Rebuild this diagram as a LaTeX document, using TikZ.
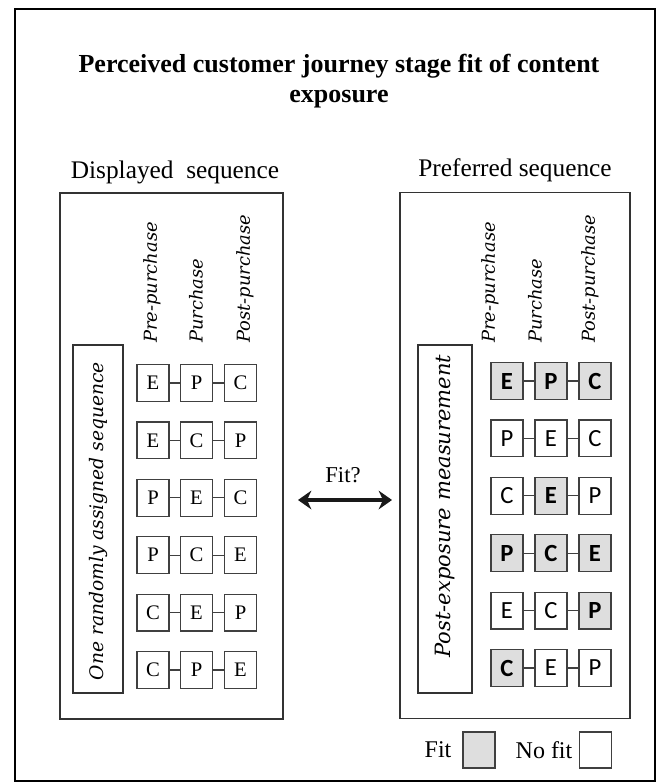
\documentclass[tikz,border=0pt]{standalone}
\usepackage{fontspec}
\setmainfont{Liberation Serif}
\newfontfamily\lblfont{DejaVu Serif}
\newfontfamily\carl{Carlito}
\usetikzlibrary{arrows.meta}
\tikzset{
  frame/.style={draw=black!80, line width=1.1pt},
  sq/.style={draw=black!75, line width=0.9pt, minimum width=24pt, minimum height=27.5pt, inner sep=0pt},
  lsq/.style={sq, font=\fontsize{15.5}{15.5}\selectfont},
  rsq/.style={sq, font=\carl\fontsize{18.5}{18.5}\selectfont},
  fitsq/.style={sq, fill=black!13, font=\carl\bfseries\fontsize{18.5}{18.5}\selectfont},
  collbl/.style={rotate=90, anchor=west, inner sep=0pt, font=\lblfont\itshape\fontsize{13.4}{15}\selectfont},
  conn/.style={draw=black!75, line width=0.8pt},
}
\begin{document}
\begin{tikzpicture}[x=0.75pt,y=-0.75pt]
\useasboundingbox (0,0) rectangle (667,782);
\fill[white] (0,0) rectangle (667,782);
\node[draw=black, line width=1.5pt, minimum width=480pt, minimum height=579pt, inner sep=0pt] (outer) at (335,395) {};
\node[align=center, font=\bfseries\fontsize{19.5}{22.5}\selectfont] (title) at (339,81) {Perceived customer journey stage fit of content\\exposure};
\node[font=\fontsize{19}{22}\selectfont] (disp) at (175,172) {Displayed\ \ sequence};
\node[font=\fontsize{19}{22}\selectfont] (pref) at (515,170) {Preferred sequence};
% boxes
\node[frame, minimum width=167.25pt, minimum height=394.5pt, inner sep=0pt] (lbox) at (171.5,456) {};
\node[frame, minimum width=172.5pt, minimum height=394.5pt, inner sep=0pt] (rbox) at (515,455.5) {};
\node[frame, minimum width=37.5pt, minimum height=261pt, inner sep=0pt] (linner) at (98,519) {};
\node[frame, minimum width=40.5pt, minimum height=261pt, inner sep=0pt] (rinner) at (445,519) {};
\node[rotate=90, font=\lblfont\itshape\fontsize{14}{16}\selectfont] (ltext) at (98,521) {One randomly assigned sequence};
\node[rotate=90, font=\lblfont\itshape\fontsize{15.8}{17}\selectfont] (rtext) at (445,506) {Post-exposure measurement};
% column labels
\node[collbl] (lc1) at (152,343) {Pre-purchase};
\node[collbl] (lc2) at (196,343) {Purchase};
\node[collbl] (lc3) at (245,343) {Post-purchase};
\node[collbl] (rc1) at (490,343) {Pre-purchase};
\node[collbl] (rc2) at (535,343) {Purchase};
\node[collbl] (rc3) at (590,343) {Post-purchase};
% left squares
\foreach \r/\a/\b/\c in {1/E/P/C, 2/E/C/P, 3/P/E/C, 4/P/C/E, 5/C/E/P, 6/C/P/E}{
  \pgfmathsetmacro{\yy}{383+57.4*(\r-1)}
  \node[lsq] (L\r a) at (153,\yy) {\a};
  \node[lsq] (L\r b) at (196.5,\yy) {\b};
  \node[lsq] (L\r c) at (240.5,\yy) {\c};
  \draw[conn] (L\r a.east) -- (L\r b.west);
  \draw[conn] (L\r b.east) -- (L\r c.west);
}
% right squares
\foreach \r/\a/\sa/\b/\sb/\c/\sc in {1/E/fitsq/P/fitsq/C/fitsq, 2/P/rsq/E/rsq/C/rsq, 3/C/rsq/E/fitsq/P/rsq, 4/P/fitsq/C/fitsq/E/fitsq, 5/E/rsq/C/rsq/P/fitsq, 6/C/fitsq/E/rsq/P/rsq}{
  \pgfmathsetmacro{\yy}{381+57.4*(\r-1)}
  \node[\sa] (R\r a) at (507,\yy) {\a};
  \node[\sb] (R\r b) at (551,\yy) {\b};
  \node[\sc] (R\r c) at (595,\yy) {\c};
  \draw[conn] (R\r a.east) -- (R\r b.west);
  \draw[conn] (R\r b.east) -- (R\r c.west);
}
% arrow
\coordinate (al) at (298,500);
\coordinate (ar) at (392,500);
\draw[line width=3.2pt, black!90, {Stealth[length=10pt,width=14pt]}-{Stealth[length=10pt,width=14pt]}] (al) -- (ar);
\node[font=\fontsize{17}{20}\selectfont] (fitq) at (343,475) {Fit?};
% legend
\node[font=\fontsize{18}{20}\selectfont] (fitlbl) at (438,750) {Fit};
\node[sq, fill=black!13, minimum height=27pt] (fitbox) at (479,750) {};
\node[font=\fontsize{18}{20}\selectfont] (nofitlbl) at (544,750) {No fit};
\node[sq, minimum height=27pt] (nofitbox) at (595.5,750) {};
\end{tikzpicture}
\end{document}
